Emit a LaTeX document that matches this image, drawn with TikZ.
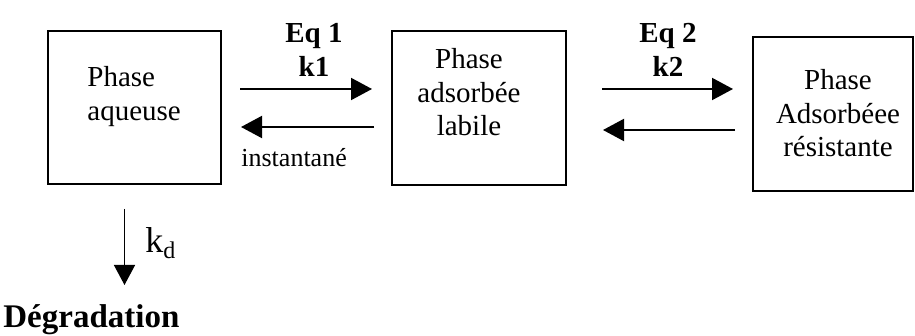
\documentclass[tikz,border=0pt]{standalone}
\usepackage{fontspec}
\setmainfont{Liberation Serif}
\usetikzlibrary{arrows.meta,calc}
\begin{document}
\begin{tikzpicture}[x=0.5pt,y=-0.5pt,
  box/.style={draw,line width=1pt,inner sep=0pt},
  txt/.style={font=\fontsize{14.5}{16.75}\selectfont,inner sep=0pt},
  bold/.style={font=\fontsize{14.5}{17}\selectfont\bfseries,align=center,inner sep=0pt},
  arr/.style={line width=1pt,-{Triangle[length=10.5pt,width=11pt]}},
  varr/.style={line width=0.7pt,-{Triangle[length=10pt,width=10.5pt]}}]
\useasboundingbox (0,0) rectangle (915,336);
% boxes
\node[box,minimum width=86.5pt,minimum height=76.5pt] (b1) at (134.5,107.5) {};
\node[box,minimum width=87pt,minimum height=77pt] (b2) at (479,108) {};
\node[box,minimum width=80pt,minimum height=77pt] (b3) at (833,114) {};
% box texts
\node[txt,align=left,anchor=north west] (t1) at (87,66) {Phase\\aqueuse};
\node[txt,align=center,anchor=north] (t2) at (469,48) {Phase\\adsorbée\\labile};
\node[txt,align=center,anchor=north] (t3) at (838,69) {Phase\\Adsorbéee\\résistante};
% arrows between boxes
\draw[arr] ($(b1.east)+(18,-18.5)$) -- ($(b2.west)+(-19,-19)$);
\draw[arr] ($(b2.west)+(-17,19)$) -- ($(b1.east)+(19,19.5)$);
\draw[arr] ($(b2.east)+(35,-19)$) -- ($(b3.west)+(-19,-25)$);
\draw[arr] ($(b3.west)+(-17,16)$) -- ($(b2.east)+(36,22)$);
% labels
\node[bold,anchor=north] (eq1) at (314,23) {Eq 1\\k1};
\node[bold,anchor=north] (eq2) at (668,23) {Eq 2\\k2};
\node[font=\fontsize{13}{15}\selectfont,inner sep=0pt,anchor=base west] (inst) at (241,167) {instantané};
% degradation
\coordinate (kdtop) at ($(b1.south)+(-10,24)$);
\coordinate (kdend) at (124.5,285);
\draw[varr] (kdtop) -- (kdend);
\node[inner sep=0pt,anchor=base west] (kd) at (145,253) {\fontsize{18}{20}\selectfont k\raisebox{-2.5pt}{\fontsize{12}{14}\selectfont d}};
\node[font=\fontsize{16.5}{19}\selectfont\bfseries,inner sep=0pt,anchor=base west] (deg) at (3,328) {Dégradation};
\end{tikzpicture}
\end{document}
